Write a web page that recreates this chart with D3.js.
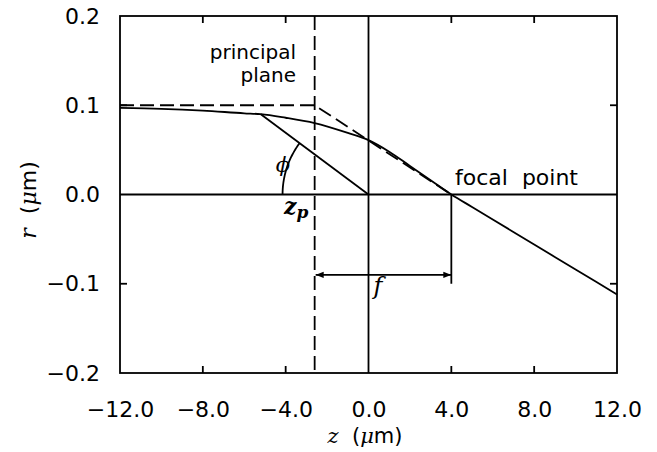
<!DOCTYPE html>
<html><head><meta charset="utf-8">
<script src="https://cdn.jsdelivr.net/npm/d3@7"></script>
<style>body{margin:0;background:#fff}svg{display:block}</style>
</head><body><svg id="c" width="657" height="452"></svg>
<script>
// ---- data ----
const zCurve = [-12, -10, -8, -6, -5.2, -4, -2.6, -1, 0, 1, 2, 3, 4, 5, 6, 8, 10, 12];
const rCurve = [0.097, 0.096, 0.094, 0.091, 0.090, 0.086, 0.080, 0.069, 0.061, 0.048, 0.032, 0.016, 0.0, -0.014, -0.028, -0.056, -0.084, -0.112];
const xTicks = [-12, -8, -4, 0, 4, 8, 12];
const yTicks = [-0.2, -0.1, 0.0, 0.1, 0.2];
const zPrincipal = -2.6;      // principal plane
const zFocal = 4.0;           // focal point
const rAsym = 0.1;            // incoming ray height (asymptote)
const kink = [-5.2, 0.090];   // point where ray to origin starts
const rArrow = -0.09;         // height of the f arrow
const rFocalTick = -0.1;      // bottom of the focal-point marker
const arcRadiusZ = 4.15;      // radius of phi arc (z units)

const svg = d3.select("#c");
const L = 120, R = 617, T = 16, B = 373;
const x = d3.scaleLinear().domain([-12, 12]).range([L, R]);
const y = d3.scaleLinear().domain([-0.2, 0.2]).range([B, T]);
const ink = "#000", lw = 1.8;
const sans = "'DejaVu Sans', sans-serif";
const serif = "'DejaVu Serif', serif";

svg.append("defs").append("marker").attr("id","ah").attr("viewBox","0 0 10 10")
  .attr("refX",10).attr("refY",5).attr("markerWidth",5).attr("markerHeight",5)
  .attr("markerUnits","strokeWidth").attr("orient","auto-start-reverse")
  .append("path").attr("d","M0,1L10,5L0,9Z").attr("fill",ink);

// frame
svg.append("rect").attr("x",L).attr("y",T).attr("width",R-L).attr("height",B-T)
  .attr("fill","none").attr("stroke",ink).attr("stroke-width",lw);

// axes labels
const fmt = d3.format(".1f");
const xa = svg.append("g").attr("transform",`translate(0,${B})`)
  .call(d3.axisBottom(x).tickValues(xTicks).tickSize(0).tickPadding(28).tickFormat(fmt));
const ya = svg.append("g").attr("transform",`translate(${L},0)`)
  .call(d3.axisLeft(y).tickValues(yTicks).tickSize(0).tickPadding(20).tickFormat(fmt));
[xa, ya].forEach(g => {
  g.select(".domain").remove();
  g.selectAll("text").attr("font-family", sans).attr("font-size", 22).attr("fill", ink);
});

// inner ticks
const tl = 7;
const innerX = xTicks.filter(v => v !== -12 && v !== 12 && v !== 0);
innerX.forEach(v => {
  svg.append("line").attr("x1",x(v)).attr("x2",x(v)).attr("y1",B).attr("y2",B-tl).attr("stroke",ink).attr("stroke-width",lw);
  svg.append("line").attr("x1",x(v)).attr("x2",x(v)).attr("y1",T).attr("y2",T+tl).attr("stroke",ink).attr("stroke-width",lw);
});
[0.1, -0.1].forEach(v => {
  svg.append("line").attr("x1",L).attr("x2",L+tl).attr("y1",y(v)).attr("y2",y(v)).attr("stroke",ink).attr("stroke-width",lw);
  svg.append("line").attr("x1",R).attr("x2",R-tl).attr("y1",y(v)).attr("y2",y(v)).attr("stroke",ink).attr("stroke-width",lw);
});

// reference lines
svg.append("line").attr("x1",L).attr("x2",R).attr("y1",y(0)).attr("y2",y(0)).attr("stroke",ink).attr("stroke-width",lw);
svg.append("line").attr("x1",x(0)).attr("x2",x(0)).attr("y1",T).attr("y2",B).attr("stroke",ink).attr("stroke-width",lw);
svg.append("line").attr("x1",x(zPrincipal)).attr("x2",x(zPrincipal)).attr("y1",T).attr("y2",B)
  .attr("stroke",ink).attr("stroke-width",lw).attr("stroke-dasharray","14,6");

// dashed asymptotes
svg.append("path").attr("d", d3.line()([[x(-12),y(rAsym)],[x(zPrincipal),y(rAsym)],[x(zFocal),y(0)]]))
  .attr("fill","none").attr("stroke",ink).attr("stroke-width",lw).attr("stroke-dasharray","14,6");

// ray curve
const line = d3.line().x((d,i)=>x(zCurve[i])).y((d,i)=>y(rCurve[i])).curve(d3.curveMonotoneX);
svg.append("path").attr("d", line(zCurve)).attr("fill","none").attr("stroke",ink).attr("stroke-width",lw);

// ray to origin
svg.append("line").attr("x1",x(kink[0])).attr("y1",y(kink[1])).attr("x2",x(0)).attr("y2",y(0))
  .attr("stroke",ink).attr("stroke-width",lw);

// phi arc
const rp = x(arcRadiusZ) - x(0);
const ang = Math.atan2(y(kink[1]) - y(0), x(kink[0]) - x(0));
const a0 = Math.PI, a1 = ang < 0 ? ang + 2*Math.PI : ang;
const pts = d3.range(0, 41).map(i => {
  const a = a0 + (a1 - a0) * i / 40;
  return [x(0) + rp*Math.cos(a), y(0) + rp*Math.sin(a)];
});
svg.append("path").attr("d", d3.line()(pts)).attr("fill","none").attr("stroke",ink).attr("stroke-width",lw);

// focal marker
svg.append("line").attr("x1",x(zFocal)).attr("x2",x(zFocal)).attr("y1",y(0)).attr("y2",y(rFocalTick))
  .attr("stroke",ink).attr("stroke-width",lw);

// f arrow
svg.append("line").attr("x1",x(zPrincipal)+1).attr("x2",x(zFocal)).attr("y1",y(rArrow)).attr("y2",y(rArrow))
  .attr("stroke",ink).attr("stroke-width",1.6)
  .attr("marker-start","url(#ah)").attr("marker-end","url(#ah)");

// annotations
const txt = (s, px, py, opt={}) => svg.append("text").attr("x",px).attr("y",py)
  .attr("font-family", opt.family || sans).attr("font-size", opt.size || 21)
  .attr("font-style", opt.style || "normal").attr("font-weight", opt.weight || "normal")
  .attr("text-anchor", opt.anchor || "start").attr("fill", ink).text(s);

txt("principal", 296, 59, {anchor:"end", size:20});
txt("plane", 296, 82, {anchor:"end", size:20});
txt("focal\u00a0\u00a0point", 455, 185, {size:22});
txt("\u03d5", 283, 172, {family: serif, style:"italic", size:21, anchor:"middle"});
txt("f", 378, 294, {family: serif, style:"italic", size:24, anchor:"middle"});
const zpT = svg.append("text").attr("x",284).attr("y",214).attr("font-family",serif)
  .attr("font-style","italic").attr("font-weight","bold").attr("font-size",22).attr("fill",ink);
zpT.append("tspan").text("z");
zpT.append("tspan").attr("font-size",17).attr("dy",4).text("p");

// axis titles
const xt = svg.append("text").attr("x",365).attr("y",443).attr("text-anchor","middle")
  .attr("font-family",sans).attr("font-size",21).attr("fill",ink);
xt.append("tspan").attr("font-family",serif).attr("font-style","italic").text("z");
xt.append("tspan").text("\u00a0\u00a0(");
xt.append("tspan").attr("font-family",serif).attr("font-style","italic").text("\u03bc");
xt.append("tspan").text("m)");

const yt = svg.append("text").attr("transform","translate(36,200) rotate(-90)").attr("text-anchor","middle")
  .attr("font-family",sans).attr("font-size",22).attr("fill",ink);
yt.append("tspan").attr("font-family",serif).attr("font-style","italic").text("r");
yt.append("tspan").text("\u00a0\u00a0(");
yt.append("tspan").attr("font-family",serif).attr("font-style","italic").text("\u03bc");
yt.append("tspan").text("m)");
</script></body></html>
